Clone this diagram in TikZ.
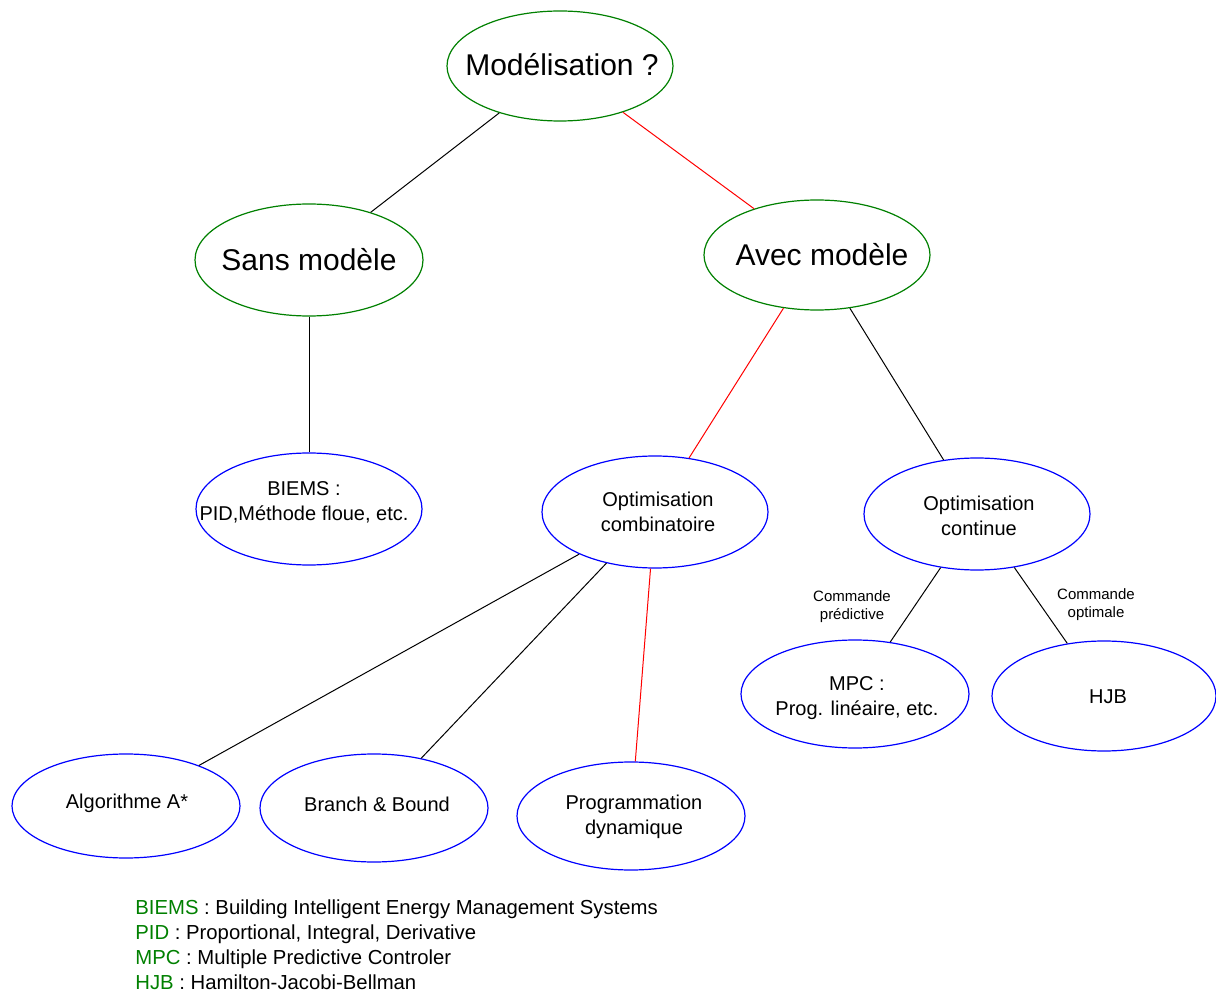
\documentclass[tikz,border=0pt]{standalone}
\usepackage{fontspec}
\setmainfont{Liberation Sans}
\usetikzlibrary{shapes.geometric}
\definecolor{tgreen}{RGB}{0,128,0}
\definecolor{tblue}{RGB}{0,0,255}
\definecolor{tred}{RGB}{255,0,0}
\begin{document}
\begin{tikzpicture}[x=0.5pt,y=-0.5pt,
  box/.style={ellipse, draw, line width=0.6pt, inner sep=0pt, fill=none},
  topbox/.style={box, draw=tgreen},
  leafbox/.style={box, draw=tblue},
  bigtxt/.style={inner sep=0pt, align=center, font=\fontsize{15}{18}\selectfont},
  midtxt/.style={inner sep=0pt, align=center, font=\fontsize{10}{12.5}\selectfont},
  tagtxt/.style={inner sep=0pt, align=center, font=\fontsize{7.5}{9}\selectfont},
  keytxt/.style={inner sep=0pt, anchor=base west, font=\fontsize{10.15}{12}\selectfont},
  link/.style={line width=0.5pt, black},
  hot/.style={line width=0.5pt, tred}]

\useasboundingbox (0,0) rectangle (1216,994);

% ellipses
\node[topbox, minimum width=113pt, minimum height=55pt] (mod) at (560,66) {};
\node[topbox, minimum width=114pt, minimum height=56pt] (sans) at (309,260) {};
\node[topbox, minimum width=113pt, minimum height=55pt] (avec) at (817,255) {};
\node[leafbox, minimum width=113pt, minimum height=56pt] (biems) at (309,509) {};
\node[leafbox, minimum width=113pt, minimum height=56pt] (comb) at (655,512) {};
\node[leafbox, minimum width=113pt, minimum height=56pt] (cont) at (977,514) {};
\node[leafbox, minimum width=114pt, minimum height=54pt] (mpc) at (855,694) {};
\node[leafbox, minimum width=112pt, minimum height=55pt] (hjb) at (1104,696) {};
\node[leafbox, minimum width=114pt, minimum height=52pt] (algo) at (126,806) {};
\node[leafbox, minimum width=114pt, minimum height=54pt] (bb) at (374,808) {};
\node[leafbox, minimum width=114pt, minimum height=54pt] (pd) at (631,816) {};

% texts inside the ellipses
\node[bigtxt] (modT) at (562,65) {Modélisation ?};
\node[bigtxt] (sansT) at (309,260) {Sans modèle};
\node[bigtxt] (avecT) at (822,255) {Avec modèle};
\node[midtxt] (biemsT) at (304,502) {BIEMS :\\PID,Méthode floue, etc.};
\node[midtxt] (combT) at (658,512) {Optimisation\\combinatoire};
\node[midtxt] (contT) at (979,516) {Optimisation\\continue};
\node[midtxt] (mpcT) at (857,698) {MPC :\\Prog. linéaire, etc.};
\node[midtxt] (hjbT) at (1108,697) {HJB};
\node[midtxt] (algoT) at (127,803) {Algorithme A*};
\node[midtxt] (bbT) at (377,804) {Branch \& Bound};
\node[midtxt] (pdT) at (634,817) {Programmation\\dynamique};

% connectors
\draw[link] (mod) -- (sans);
\draw[hot] (mod) -- (avec);
\draw[link] (sans) -- (biems);
\draw[hot] (avec) -- (comb);
\draw[link] (avec) -- (cont);
\draw[link] (comb) -- (algo);
\draw[link] (comb) -- (bb);
\draw[hot] (comb) -- (pd);
\draw[link] (cont) -- (mpc);
\draw[link] (cont) -- (hjb);

% edge captions
\node[tagtxt] (tagP) at (852,607) {Commande\\prédictive};
\node[tagtxt] (tagO) at (1096,605) {Commande\\optimale};

% key
\node[keytxt] (k1) at (135,914) {\textcolor{tgreen}{BIEMS} : Building Intelligent Energy Management Systems};
\node[keytxt] (k2) at (135,939) {\textcolor{tgreen}{PID} : Proportional, Integral, Derivative};
\node[keytxt] (k3) at (135,964) {\textcolor{tgreen}{MPC} : Multiple Predictive Controler};
\node[keytxt] (k4) at (135,989) {\textcolor{tgreen}{HJB} : Hamilton-Jacobi-Bellman};
\end{tikzpicture}
\end{document}
